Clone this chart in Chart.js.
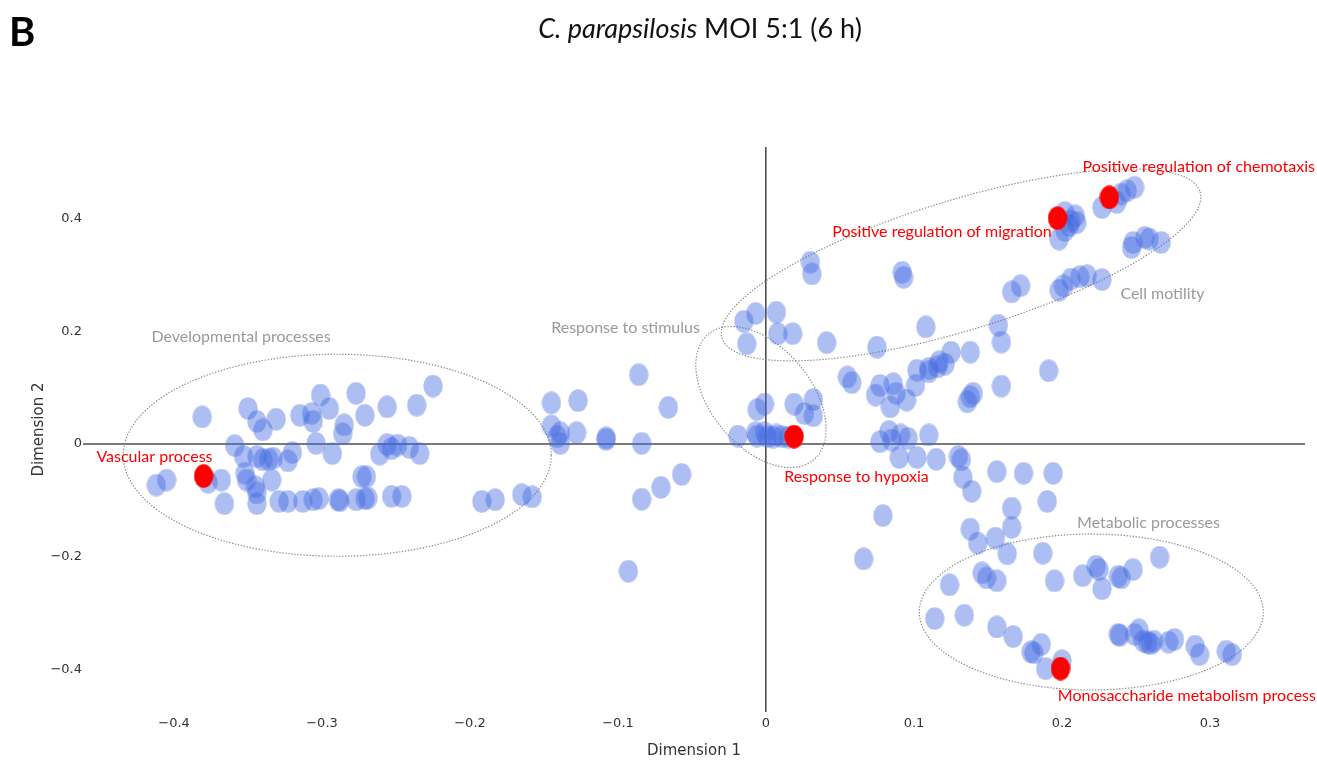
<!DOCTYPE html>
<html>
<head>
<meta charset="utf-8">
<script src="https://cdn.jsdelivr.net/npm/chart.js@4.4.1/dist/chart.umd.min.js"></script>
<style>
  html, body { margin: 0; padding: 0; background: #fff; }
  #wrap { position: relative; width: 1317px; height: 761px; overflow: hidden; }
  #panel { position: absolute; left: 9px; top: 7px; font: bold 40px Lato, sans-serif; color: #000; }
  #title { position: absolute; left: 0; width: 1400px; top: 11px; text-align: center; font: 27px Lato, sans-serif; color: #111; }
  canvas { position: absolute; left: 0; top: 0; }
</style>
</head>
<body>
<div id="wrap">
  <canvas id="c" width="1317" height="761"></canvas>
  <div id="panel">B</div>
  <div id="title"><i>C. parapsilosis</i> MOI 5:1 (6 h)</div>
</div>
<script>
// ---- data (Dimension 1, Dimension 2) ----
const blueX = [
  -0.381,-0.412,-0.405,-0.377,-0.368,-0.366,-0.359,-0.350,-0.344,-0.340,-0.331,-0.353,-0.352,-0.351,-0.345,-0.344,-0.344,-0.344,-0.340,-0.336,
  -0.333,-0.334,-0.329,-0.323,-0.323,-0.320,-0.315,-0.307,-0.306,-0.301,-0.295,-0.304,-0.293,-0.286,-0.285,-0.277,-0.271,-0.313,-0.306,-0.302,
  -0.289,-0.288,-0.277,-0.271,-0.269,-0.273,-0.270,-0.261,-0.256,-0.253,-0.249,-0.253,-0.246,-0.256,-0.241,-0.234,-0.236,-0.225,-0.192,-0.183,
  -0.165,-0.158,
  -0.145,-0.127,-0.145,-0.139,-0.141,-0.139,-0.128,-0.108,-0.108,-0.084,-0.086,-0.066,-0.057,-0.071,-0.084,-0.093,
  -0.019,-0.007,-0.006,-0.001,0.001,0.005,0.007,0.011,0.015,-0.006,-0.001,0.019,0.026,0.032,0.032,
  -0.015,-0.007,0.007,0.008,0.018,-0.013,0.041,
  0.030,0.031,0.092,0.093,0.108,0.075,0.157,0.159,0.138,0.125,0.117,0.110,0.166,0.172,0.198,0.201,0.206,0.212,0.217,0.227,
  0.247,0.248,0.256,0.259,0.267,0.227,0.240,0.244,0.249,0.237,0.202,0.209,0.210,0.205,0.202,0.198,0.206,
  0.055,0.058,0.077,0.074,0.086,0.088,0.095,0.084,0.101,0.102,0.110,0.116,0.121,0.140,0.136,0.138,0.159,0.191,
  0.077,0.083,0.085,0.091,0.096,0.110,0.090,0.102,0.115,0.130,0.132,0.133,0.139,0.156,0.174,0.194,0.190,0.166,0.166,0.138,
  0.143,0.155,0.163,0.187,0.079,0.066,0.124,0.146,0.149,0.156,0.195,0.214,0.223,0.225,0.227,0.238,0.240,0.248,0.266,
  0.114,0.134,0.156,0.167,0.181,0.186,0.179,0.189,0.200,0.238,0.239,0.249,0.252,0.255,0.258,0.260,0.262,0.272,0.276,0.290,
  0.293,0.311,0.315
];
const blueY = [
  0.048,-0.073,-0.064,-0.068,-0.064,-0.106,-0.003,0.063,0.040,0.025,0.044,-0.022,-0.052,-0.064,-0.076,-0.087,-0.106,-0.022,-0.028,-0.027,
  -0.025,-0.064,-0.102,-0.102,-0.030,-0.015,0.051,0.054,0.040,0.087,0.063,0.001,-0.017,0.018,0.034,0.090,0.051,-0.102,-0.099,-0.097,
  -0.099,-0.101,-0.099,-0.097,-0.096,-0.058,-0.058,-0.018,-0.001,-0.008,-0.002,-0.093,-0.093,0.066,-0.006,-0.017,0.069,0.103,-0.102,-0.099,
  -0.090,-0.094,
  0.073,0.077,0.032,0.020,0.013,0.001,0.020,0.008,0.011,0.001,0.123,0.065,-0.054,-0.077,-0.098,-0.226,
  0.014,0.020,0.014,0.020,0.013,0.012,0.016,0.013,0.012,0.061,0.071,0.071,0.054,0.079,0.050,
  0.218,0.232,0.234,0.196,0.196,0.178,0.180,
  0.323,0.302,0.305,0.296,0.208,0.172,0.211,0.181,0.163,0.163,0.146,0.134,0.270,0.281,0.273,0.281,0.293,0.297,0.299,0.292,
  0.349,0.358,0.367,0.364,0.358,0.420,0.444,0.450,0.456,0.429,0.411,0.405,0.393,0.388,0.379,0.364,0.396,
  0.119,0.109,0.104,0.087,0.107,0.090,0.078,0.066,0.104,0.131,0.128,0.137,0.142,0.090,0.075,0.084,0.103,0.130,
  0.004,0.022,0.007,0.016,0.010,0.016,-0.024,-0.024,-0.027,-0.022,-0.028,-0.059,-0.084,-0.049,-0.052,-0.052,-0.102,-0.114,-0.148,-0.151,
  -0.176,-0.167,-0.195,-0.194,-0.127,-0.204,-0.250,-0.229,-0.238,-0.243,-0.243,-0.234,-0.217,-0.223,-0.257,-0.235,-0.238,-0.223,-0.201,
  -0.310,-0.304,-0.325,-0.342,-0.371,-0.356,-0.369,-0.399,-0.385,-0.338,-0.340,-0.338,-0.330,-0.350,-0.353,-0.355,-0.350,-0.352,-0.347,-0.359,
  -0.374,-0.368,-0.374
];
// highlighted GO terms
const redNames = ['Vascular process','Response to hypoxia','Positive regulation of migration','Positive regulation of chemotaxis','Monosaccharide metabolism process'];
const redX = [-0.380, 0.019, 0.197, 0.232, 0.199];
const redY = [-0.057, 0.013, 0.401, 0.438, -0.399];

// tick settings
const xTickStep = 0.1;
const yTickStep = 0.2;

// cluster annotations (centre in data units, semi-axes in x / y data units, rotation in degrees)
const clusters = [
  { cx: -0.2897, cy: -0.020, rx: 0.1446, ry: 0.1794, rot: 0 },
  { cx: -0.0034, cy: 0.0835, rx: 0.0554, ry: 0.0888, rot: 50 },
  { cx: 0.1318, cy: 0.318, rx: 0.1689, ry: 0.1155, rot: -17 },
  { cx: 0.2198, cy: -0.2984, rx: 0.1162, ry: 0.1385, rot: 0 }
];
const clusterLabels = [
  { text: 'Developmental processes', x: -0.3547, y: 0.190, align: 'center' },
  { text: 'Response to stimulus', x: -0.0949, y: 0.206, align: 'center' },
  { text: 'Cell motility', x: 0.2679, y: 0.2664, align: 'center' },
  { text: 'Metabolic processes', x: 0.2584, y: -0.1398, align: 'center' }
];
const termLabels = [
  { text: redNames[0], x: -0.4132, y: -0.0226, align: 'center' },
  { text: redNames[1], x: 0.0611, y: -0.0591, align: 'center' },
  { text: redNames[2], x: 0.1189, y: 0.377, align: 'center' },
  { text: redNames[3], x: 0.3709, y: 0.492, align: 'right' },
  { text: redNames[4], x: 0.3716, y: -0.4476, align: 'right' }
];

function ellipseImg(w, h, color) {
  const c = document.createElement('canvas');
  c.width = w; c.height = h;
  const g = c.getContext('2d');
  g.fillStyle = color;
  g.beginPath();
  g.ellipse(w / 2, h / 2, w / 2 - 0.3, h / 2 - 0.3, 0, 0, Math.PI * 2);
  g.fill();
  return c;
}
const bluePt = ellipseImg(20, 23, 'rgba(65,105,225,0.43)');
const redPt = ellipseImg(20, 24, 'rgb(255,0,0)');

const blueData = blueX.map((x, i) => ({ x: x, y: blueY[i] }));
const redData = redX.map((x, i) => ({ x: x, y: redY[i] }));

const fmt = v => {
  if (Math.abs(v) < 1e-9) return '0';
  const s = Math.abs(v).toFixed(1);
  return (v < 0 ? '\u2212' : '') + s;
};

const annot = {
  id: 'annot',
  beforeDatasetsDraw(chart) {
    const { ctx, scales: { x, y } } = chart;
    const pxX = Math.abs(x.getPixelForValue(1) - x.getPixelForValue(0));
    const pxY = Math.abs(y.getPixelForValue(1) - y.getPixelForValue(0));
    ctx.save();
    ctx.strokeStyle = '#8c8c8c';
    ctx.lineWidth = 1.2;
    ctx.setLineDash([1.4, 1.6]);
    clusters.forEach(c => {
      ctx.beginPath();
      ctx.ellipse(x.getPixelForValue(c.cx), y.getPixelForValue(c.cy), c.rx * pxX, c.ry * pxY, c.rot * Math.PI / 180, 0, Math.PI * 2);
      ctx.stroke();
    });
    ctx.restore();
  },
  afterDatasetsDraw(chart) {
    const { ctx, scales: { x, y } } = chart;
    ctx.save();
    ctx.textBaseline = 'middle';
    ctx.font = '16px Lato';
    ctx.fillStyle = '#9a9a9a';
    clusterLabels.forEach(l => {
      ctx.textAlign = l.align;
      ctx.fillText(l.text, x.getPixelForValue(l.x), y.getPixelForValue(l.y));
    });
    ctx.fillStyle = '#ff0000';
    termLabels.forEach(l => {
      ctx.textAlign = l.align;
      ctx.fillText(l.text, x.getPixelForValue(l.x), y.getPixelForValue(l.y));
    });
    ctx.restore();
  }
};

const tickFont = { family: 'DejaVu Sans', size: 13 };
const titleFont = { family: 'DejaVu Sans', size: 15 };

new Chart(document.getElementById('c'), {
  type: 'scatter',
  data: {
    datasets: [
      { label: 'Highlighted', data: redData, pointStyle: redPt, pointRadius: 10, pointHoverRadius: 10 },
      { label: 'GO terms', data: blueData, pointStyle: bluePt, pointRadius: 10, pointHoverRadius: 10 }
    ]
  },
  options: {
    responsive: false,
    devicePixelRatio: 1,
    animation: false,
    events: [],
    layout: { padding: { top: 147, right: 12, left: 0, bottom: 0 } },
    plugins: { legend: { display: false }, tooltip: { enabled: false }, title: { display: false } },
    scales: {
      x: {
        type: 'linear',
        min: -0.4615, max: 0.3642,
        afterFit(s) { s.height = 49; },
        border: { display: false },
        grid: {
          drawTicks: false,
          color: c => (c.tick && Math.abs(c.tick.value) < 1e-9) ? '#4d4d4d' : 'rgba(0,0,0,0)',
          lineWidth: 1.6
        },
        ticks: { stepSize: xTickStep, includeBounds: false, padding: 4, color: '#333', font: tickFont, callback: fmt, maxRotation: 0 },
        title: { display: true, text: 'Dimension 1', color: '#333', font: titleFont, padding: { top: 0, bottom: 1 } }
      },
      y: {
        type: 'linear',
        min: -0.476, max: 0.5275,
        afterFit(s) { s.width = 83; },
        border: { display: false },
        grid: {
          drawTicks: false,
          color: c => (c.tick && Math.abs(c.tick.value) < 1e-9) ? '#7a7a7a' : 'rgba(0,0,0,0)',
          lineWidth: 2
        },
        ticks: { stepSize: yTickStep, includeBounds: false, padding: 1, color: '#333', font: tickFont, callback: fmt },
        title: { display: true, text: 'Dimension 2', color: '#333', font: titleFont, padding: { top: 30, bottom: 0 } }
      }
    }
  },
  plugins: [annot]
});
</script>
</body>
</html>
